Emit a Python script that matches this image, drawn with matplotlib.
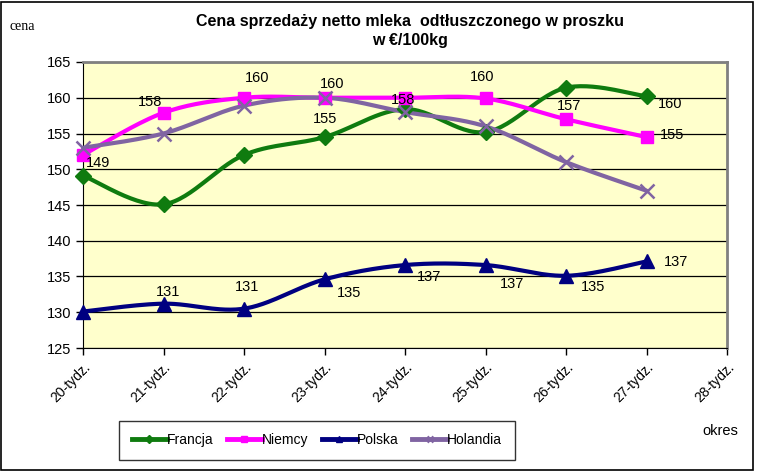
import numpy as np
import matplotlib
matplotlib.use("Agg")
import matplotlib.pyplot as plt
from matplotlib.patches import Rectangle

plt.rcParams['font.family'] = ['Liberation Sans', 'DejaVu Sans']

categories = ["20-tydz.", "21-tydz.", "22-tydz.", "23-tydz.", "24-tydz.",
              "25-tydz.", "26-tydz.", "27-tydz.", "28-tydz."]
francja = [149.1, 145.1, 152.0, 154.5, 158.4, 155.2, 161.4, 160.2]
niemcy = [152.0, 157.9, 160.0, 160.0, 160.0, 159.9, 157.0, 154.5]
polska = [130.1, 131.2, 130.5, 134.6, 136.6, 136.6, 135.1, 137.1]
holandia = [153.0, 155.0, 158.9, 160.0, 158.0, 156.0, 151.0, 147.0]

W, H = 757, 473
fig = plt.figure(figsize=(W / 100, H / 100), dpi=100)
fig.patch.set_facecolor("white")
fig.patches.append(Rectangle((1 / W, 3 / H), 752 / W, 468 / H, transform=fig.transFigure,
                             fill=False, edgecolor="black", linewidth=1.2))

L, R, T, B = 83, 727, 62, 348
ax = fig.add_axes([L / W, 1 - B / H, (R - L) / W, (B - T) / H])
ax.set_facecolor("#FFFFCC")
ax.set_xlim(0, 8)
ax.set_ylim(125, 165)
ax.set_yticks(np.arange(125, 166, 5))
ax.yaxis.grid(True, color="black", linewidth=0.9)
ax.set_axisbelow(True)
ax.set_xticks(np.arange(len(categories)))
ax.set_xticklabels(categories, rotation=45, ha="right", va="top", rotation_mode="anchor",
                   fontsize=10)
for lab in ax.get_xticklabels():
    lab.set_transform(lab.get_transform() + matplotlib.transforms.ScaledTranslation(
        3 / 100, -8 / 100, fig.dpi_scale_trans))
ax.tick_params(axis="y", labelsize=10.5, length=5, direction="out", width=1)
ax.tick_params(axis="x", length=5, direction="out", width=1)
ax.spines["top"].set_color("#808080")
ax.spines["right"].set_color("#808080")
for s in ["top", "right"]:
    ax.spines[s].set_linewidth(2)
ax.spines["left"].set_color("black")
ax.spines["bottom"].set_color("black")


def smooth(y, n=30):
    y = np.asarray(y, float)
    x = np.arange(len(y), dtype=float)
    P = np.vstack([x, y]).T
    P = np.vstack([P[0], P, P[-1]])
    out = []
    for i in range(1, len(P) - 2):
        p0, p1, p2, p3 = P[i - 1], P[i], P[i + 1], P[i + 2]
        t = np.linspace(0, 1, n, endpoint=False)[:, None]
        c1 = p1 + (p2 - p0) / 6
        c2 = p2 - (p3 - p1) / 6
        pts = ((1 - t) ** 3) * p1 + 3 * ((1 - t) ** 2) * t * c1 + 3 * (1 - t) * t ** 2 * c2 + t ** 3 * p2
        out.append(pts)
    out.append(P[-2][None, :])
    out = np.vstack(out)
    return out[:, 0], out[:, 1]


series = [
    ("Francja", francja, "#0F7B0F", "D", 8, dict()),
    ("Niemcy", niemcy, "#FF00FF", "s", 9, dict()),
    ("Polska", polska, "#000080", "^", 10, dict()),
    ("Holandia", holandia, "#8064A2", "x", 10, dict(markeredgewidth=1.8)),
]
handles = []
for name, vals, col, mk, ms, kw in series:
    xs, ys = smooth(vals)
    ax.plot(xs, ys, color=col, linewidth=3, solid_capstyle="round", zorder=3, clip_on=False)
    ax.plot(np.arange(len(vals)), vals, linestyle="none", marker=mk, markersize=ms,
            color=col, zorder=4, clip_on=False, **kw)
    h, = ax.plot([], [], color=col, linewidth=3.5, marker=mk, markersize=4, **kw)
    handles.append(h)


def px(xp, yp):
    return (xp - L) / (R - L) * 8, 165 - (yp - T) / (B - T) * 40


lab_pos = [
    ("149", 98, 163), ("158", 150, 102), ("160", 257, 78), ("160", 332, 84),
    ("155", 325, 119), ("158", 403, 100), ("160", 482, 77), ("157", 569, 106),
    ("160", 670, 104), ("155", 672, 135),
    ("131", 168, 292), ("131", 247, 287), ("135", 349, 293), ("137", 429, 277),
    ("137", 512, 284), ("135", 593, 287), ("137", 676, 262),
]
for t, xp, yp in lab_pos:
    xd, yd = px(xp, yp)
    ax.text(xd, yd, t, fontsize=10.5, ha="center", va="center", zorder=5, clip_on=False)

fig.text(410 / W, 1 - 21 / H, "Cena sprzedaży netto mleka  odtłuszczonego w proszku",
         ha="center", va="center", fontsize=11.5, fontweight="bold")
fig.text(410 / W, 1 - 40 / H, "w €/100kg", ha="center", va="center", fontsize=11.5,
         fontweight="bold")
fig.text(10 / W, 1 - 26 / H, "cena", ha="left", va="center", fontsize=10,
         family="Liberation Serif")
fig.text(720 / W, 1 - 431 / H, "okres", ha="center", va="center", fontsize=10.5)

leg = fig.legend(handles, [s[0] for s in series], loc="center",
                 bbox_to_anchor=(317 / W, 1 - 440 / H), ncol=4, frameon=True,
                 fancybox=False, edgecolor="black", fontsize=10, handlelength=2.5,
                 handletextpad=0.0, columnspacing=1.0, borderpad=0.9, borderaxespad=0)
leg.get_frame().set_linewidth(1.0)

fig.savefig("out.png", dpi=100)
